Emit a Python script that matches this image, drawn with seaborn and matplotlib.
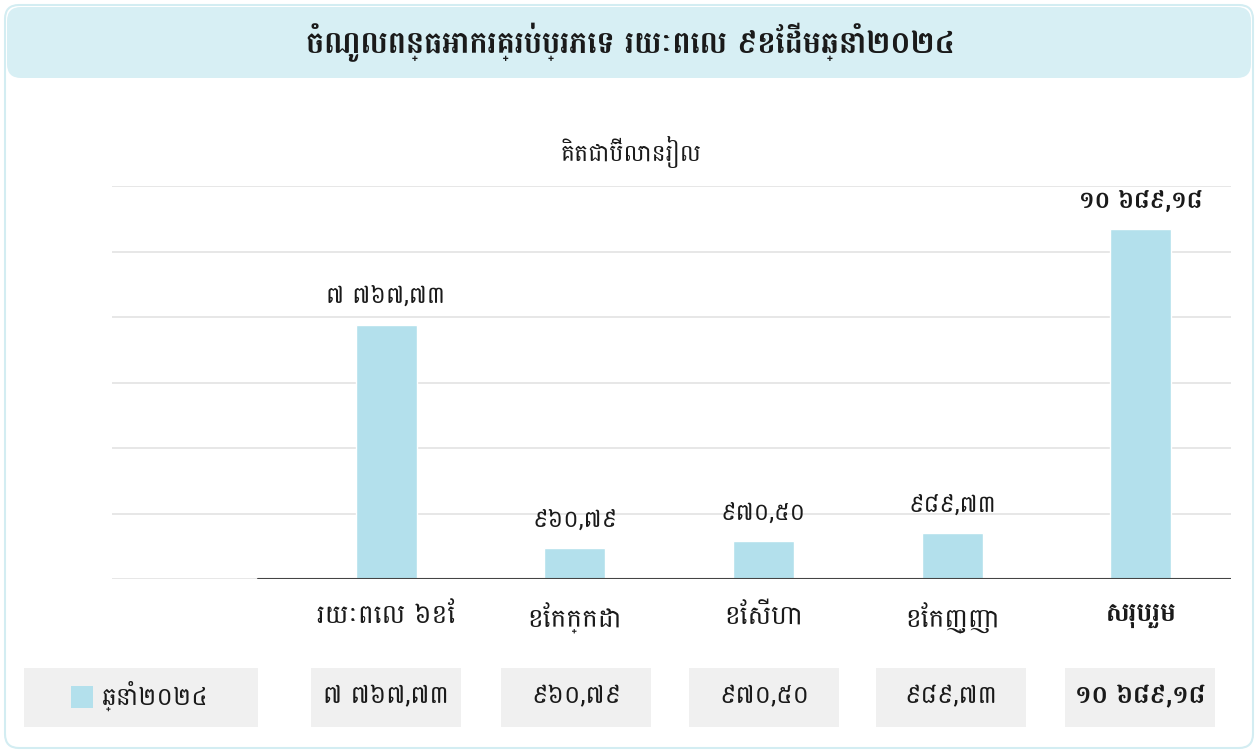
import matplotlib
matplotlib.use("Agg")
import matplotlib.pyplot as plt
import seaborn as sns
import pandas as pd
from matplotlib import font_manager
from matplotlib.patches import FancyBboxPatch, Rectangle

# ---- data ----
title = "ចំណូលពន្ធអាករគ្រប់ប្រភេទ រយៈពេល ៩ខែដើមឆ្នាំ២០២៤"
unit_label = "គិតជាប៊ីលានរៀល"
categories = ["រយៈពេល ៦ខែ", "ខែកក្កដា", "ខែសីហា", "ខែកញ្ញា", "សរុបរួម"]
values = [7767.73, 945.0, 1160.0, 1400.0, 10689.18]
value_labels = ["៧ ៧៦៧,៧៣", "៩៦០,៧៩", "៩៧០,៥០", "៩៨៩,៧៣", "១០ ៦៨៩,១៨"]
series_name = "ឆ្នាំ២០២៤"
y_ticks = [0, 2000, 4000, 6000, 8000, 10000, 12000]

# ---- fonts ----
installed = {f.name for f in font_manager.fontManager.ttflist}
khmer = [f for f in ["Battambang", "Noto Sans Khmer", "Hanuman"] if f in installed][:1]

sns.set_theme(style="white")
plt.rcParams["font.family"] = khmer + ["DejaVu Sans"]

BAR = "#b3e0ec"
TXT = "#1a1a1a"
W, H = 1258, 753
fig = plt.figure(figsize=(W / 100, H / 100), dpi=100)
fig.patch.set_facecolor("white")

bg = fig.add_axes([0, 0, 1, 1])
bg.set_xlim(0, W)
bg.set_ylim(H, 0)
bg.axis("off")

bg.add_patch(FancyBboxPatch((5, 5), W - 10, H - 10,
                            boxstyle="round,pad=0,rounding_size=14",
                            facecolor="white", edgecolor="#d3edf2", lw=1.5))
bg.add_patch(FancyBboxPatch((7, 7), W - 14, 71,
                            boxstyle="round,pad=0,rounding_size=14",
                            facecolor="#d7eff4", edgecolor="none"))
bg.text(630, 42, title, ha="center", va="center", fontsize=22,
        fontweight="bold", color=TXT)
bg.text(631, 152, unit_label, ha="center", va="center", fontsize=17,
        color=TXT)

bg.add_patch(Rectangle((24, 668), 234, 59, facecolor="#f0f0f0", edgecolor="none"))
bg.add_patch(Rectangle((71, 686), 22, 22, facecolor=BAR, edgecolor="none"))
bg.text(102, 696, series_name, ha="left", va="center", fontsize=18, color=TXT)
centers = [386, 576, 764, 951, 1140]
for i, (cx, lab) in enumerate(zip(centers, value_labels)):
    bg.add_patch(Rectangle((cx - 75, 668), 150, 59, facecolor="#f0f0f0", edgecolor="none"))
    bg.text(cx, 696, lab, ha="center", va="center", fontsize=18,
            fontweight="bold" if i == len(categories) - 1 else "normal",
            color=TXT)

ax = fig.add_axes([112 / W, 1 - 579 / H, 1119 / W, 393 / H])
ax.patch.set_alpha(0)
df = pd.DataFrame({"cat": categories, "val": values})
sns.barplot(data=df, x="cat", y="val", color=BAR, width=0.323, saturation=1,
            ax=ax, zorder=3)
ax.set_xlim(-1.452, 4.477)
ax.set_ylim(0, 12000)
ax.set_yticks(y_ticks)
ax.yaxis.grid(True, color="#e3e3e3", lw=1.2, zorder=0)
ax.set_axisbelow(True)
ax.tick_params(axis="y", left=False, labelleft=False)
ax.tick_params(axis="x", bottom=False, pad=11, labelsize=19, labelcolor=TXT)
for s in ax.spines.values():
    s.set_visible(False)
ax.axhline(0, xmin=(258 - 112) / 1119, xmax=1, color="#444444", lw=1.5, zorder=4)
ax.set_xlabel("")
ax.set_ylabel("")
for lbl in ax.get_xticklabels():
    if lbl.get_text() == categories[-1]:
        lbl.set_fontweight("bold")

for i, (v, lab) in enumerate(zip(values, value_labels)):
    ax.annotate(lab, (i, v), xytext=(0, 28), textcoords="offset pixels",
                ha="center", va="center", fontsize=17,
                fontweight="bold" if i == len(values) - 1 else "normal",
                color=TXT)

fig.savefig("out.png", dpi=100)
